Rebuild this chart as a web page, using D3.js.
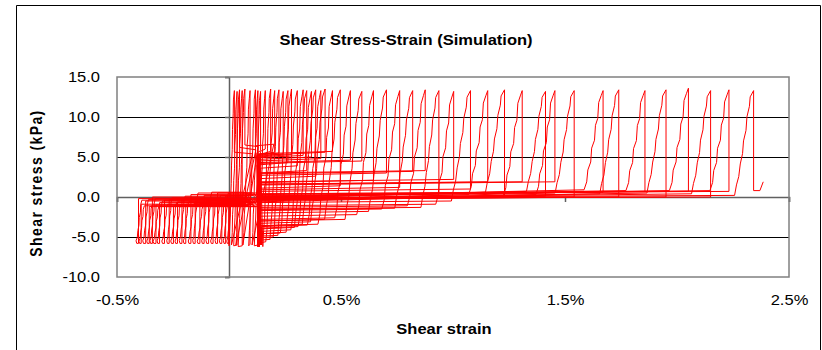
<!DOCTYPE html>
<html>
<head>
<meta charset="utf-8">
<script src="https://cdn.jsdelivr.net/npm/d3@7"></script>
<style>
  body { margin: 0; background: #fff; }
  text { font-family: "Liberation Sans", Arial, sans-serif; }
</style>
</head>
<body>
<div id="chart"></div>
<script>
// ---- data (strain in %, stress in kPa) ----
var xTicks = [-0.5, 0.5, 1.5, 2.5];
var yTicks = [-10, -5, 0, 5, 10, 15];
var gridStress = [-5, 5, 10];

// branch shapes: [fraction of height, fraction of width]
var jagA = [[0,0],[0.1,0.1],[0.18,0.22],[0.3,0.3],[0.4,0.42],[0.52,0.47],[0.62,0.6],[0.75,0.65],[0.85,0.78],[0.94,0.82],[1,1]];
var jagB = [[0,0],[0.08,0.14],[0.2,0.2],[0.28,0.35],[0.42,0.4],[0.5,0.55],[0.65,0.6],[0.72,0.72],[0.88,0.77],[0.95,0.9],[1,1]];
var jagL = [[0,0.12],[0.06,0],[0.14,0.22],[0.3,0.32],[0.42,0.5],[0.6,0.55],[0.72,0.75],[0.9,0.8],[1,1]];

var leftBottom = -5.8;
// negative strain cycles: [foot strain, width, strain in, top stress, vertical strain, return stress, strain out]
var leftCycles = [
  [-0.415, 0.026, 0.055, -0.4, -0.404, -0.2, 0.080],
  [-0.402, 0.024, 0.070, -1.1, -0.392, -0.9, 0.100],
  [-0.385, 0.026, 0.090, -0.3, -0.372, -0.5, 0.060],
  [-0.367, 0.024, 0.110, -1.0, -0.356, -1.2, 0.120],
  [-0.353, 0.024, 0.050, -0.2, -0.342,  0.0, 0.090],
  [-0.339, 0.026, 0.130, -1.2, -0.326, -1.0, 0.070],
  [-0.321, 0.024, 0.080, -0.5, -0.310, -0.7, 0.110],
  [-0.300, 0.026, 0.100, -0.9, -0.288, -0.4, 0.050],
  [-0.278, 0.024, 0.060, -0.1, -0.267, -0.3, 0.130],
  [-0.260, 0.026, 0.120, -0.7, -0.248, -1.1, 0.080],
  [-0.241, 0.024, 0.090, -1.0, -0.230, -0.6, 0.100],
  [-0.222, 0.026, 0.050,  0.1, -0.210, -0.2, 0.140],
  [-0.204, 0.024, 0.110, -0.6, -0.193, -0.9, 0.060],
  [-0.182, 0.026, 0.070, -0.8, -0.170,  0.3, 0.120],
  [-0.162, 0.024, 0.130,  0.5, -0.151, -0.5, 0.090],
  [-0.142, 0.026, 0.080, -1.1, -0.130, -0.8, 0.050],
  [-0.122, 0.024, 0.100, -0.3, -0.111,  0.2, 0.110],
  [-0.103, 0.026, 0.060,  0.6, -0.091, -0.4, 0.130],
  [-0.082, 0.024, 0.120, -0.7, -0.071, -1.0, 0.070],
  [-0.062, 0.024, 0.090,  0.2, -0.051,  0.5, 0.100],
  [-0.043, 0.024, 0.050, -0.4, -0.032, -0.6, 0.140],
  [-0.025, 0.022, 0.110,  0.5, -0.015,  0.1, 0.080],
  [-0.010, 0.020, 0.070, -0.9, -0.001, -0.3, 0.000]
];

// positive strain cycles:
// [top strain, width, strain in, stress in, foot stress, top stress, unload stress, strain out, return stress, low stress]
var rightCycles = [
  [0.024, 0.024, 0.000, -6.1, -6.1, 13.3,  5.6, 0.105,  5.4, -6.1],
  [0.036, 0.025, 0.011, -6.0, -6.0, 13.2, -6.0, 0.036, -6.0, -6.0],
  [0.047, 0.026, 0.021, -6.1, -6.1, 13.4,  6.2, 0.120,  5.9, -6.1],
  [0.059, 0.028, 0.031, -6.0, -6.0, 13.3, -6.1, 0.059, -6.1, -6.0],
  [0.071, 0.030, 0.041, -6.2, -6.2, 13.5,  6.5, 0.130,  6.3, -6.2],
  [0.094, 0.032, 0.062, -6.0, -6.0, 13.3, -5.9, 0.094, -5.9, -6.0],
  [0.118, 0.030, 0.088, -6.1, -6.1, 13.4,  6.4, 0.200,  6.6, -6.1],
  [0.129, 0.026, 0.103, -6.0, -6.0, 13.3, -6.0, 0.129, -6.0, -6.0],
  [0.141, 0.028, 0.113, -6.1, -6.1, 13.2,  5.8, 0.125,  5.5, -6.1],
  [0.162, 0.030, 0.132, -6.0, -6.0, 13.3,  6.0, 0.140,  5.7, -6.0],
  [0.186, 0.035, 0.151, -6.2, -6.2, 13.5,  5.7, 0.135,  5.3, -6.2],
  [0.204, 0.040, 0.140, -5.7, -5.6, 13.3,  5.6, 0.130,  5.3, -6.0],
  [0.223, 0.040, 0.135, -5.4, -5.3, 13.4,  5.5, 0.125,  5.2, -6.1],
  [0.242, 0.045, 0.140, -5.1, -5.0, 13.2,  5.4, 0.140,  5.1, -6.0],
  [0.263, 0.045, 0.130, -4.9, -4.8, 13.3,  4.3, 0.125,  4.0, -6.2],
  [0.279, 0.050, 0.145, -4.6, -4.5, 13.5,  5.3, 0.130,  5.0, -6.0],
  [0.305, 0.050, 0.135, -4.6, -4.4, 13.3,  3.9, 0.140,  3.6, -6.1],
  [0.331, 0.055, 0.140, -4.3, -4.1, 13.4,  5.2, 0.125,  4.9, -6.0],
  [0.347, 0.055, 0.130, -4.0, -3.8, 13.3,  3.3, 0.135,  3.0, -6.2],
  [0.368, 0.060, 0.140, -3.9, -3.7, 13.2,  5.0, 0.130,  4.7, -6.0],
  [0.387, 0.060, 0.135, -3.6, -3.4, 13.4,  2.6, 0.140,  2.3, -6.1],
  [0.410, 0.060, 0.145, -3.7, -3.5, 13.3,  4.8, 0.130,  4.5, -6.0],
  [0.429, 0.065, 0.130, -3.3, -3.1, 13.5,  5.6, 0.135,  5.2, -6.2],
  [0.462, 0.065, 0.140, -3.6, -3.4, 13.3,  5.7, 0.130,  5.4, -6.0],
  [0.497, 0.070, 0.135, -3.0, -2.8, 13.4,  1.4, 0.140,  1.1, -6.1],
  [0.542, 0.070, 0.140, -2.8, -2.6, 13.3,  4.6, 0.130,  4.3, -6.0],
  [0.593, 0.075, 0.130, -3.0, -2.8, 13.2,  4.5, 0.135,  4.2, -6.2],
  [0.645, 0.075, 0.140, -2.4, -2.2, 13.3,  2.1, 0.140,  1.8, -6.0],
  [0.703, 0.080, 0.135, -2.0, -1.8, 13.4,  3.0, 0.130,  2.7, -6.1],
  [0.762, 0.080, 0.140, -1.7, -1.5, 13.3,  1.2, 0.140,  0.9, -6.0],
  [0.820, 0.080, 0.130, -1.6, -1.4, 13.3,  3.2, 0.135,  2.9, -6.2],
  [0.876, 0.080, 0.140, -1.3, -1.1, 13.4,  3.3, 0.130,  3.0, -6.0],
  [0.937, 0.080, 0.135, -1.5, -1.3, 13.3,  0.4, 0.140,  0.1, -6.1],
  [1.003, 0.080, 0.140, -1.1, -0.9, 13.2,  2.2, 0.130,  1.9, -6.0],
  [1.078, 0.085, 0.130, -0.7, -0.5, 13.3,  1.0, 0.135,  0.7, -6.2],
  [1.155, 0.085, 0.140, -0.4,  0.3, 13.3,  1.9, 0.130,  1.6, -6.0],
  [1.230, 0.085, 0.130, -0.2,  0.6, 13.4,  0.0, 0.140, -0.4, -6.1],
  [1.309, 0.085, 0.140, -0.6,  0.1, 13.3,  1.9, 0.135,  1.6, -6.0],
  [1.413, 0.085, 0.135, -0.1,  0.7, 13.2,  0.1, 0.130, -0.3, -6.2],
  [1.455, 0.085, 0.140, -0.5,  0.3, 13.3,  1.9, 0.140,  1.5, -6.0],
  [1.541, 0.085, 0.130, -0.3,  0.5, 13.3,  0.0, 0.135, -0.3, -6.1],
  [1.670, 0.085, 0.140,  0.0,  0.9, 13.3,  0.6, 0.130,  0.2, -6.0],
  [1.740, 0.085, 0.135, -0.4,  0.4, 13.4,  0.0, 0.140, -0.3, -6.2],
  [1.857, 0.085, 0.140,  0.1,  0.8, 13.3,  0.7, 0.130,  0.3, -6.0],
  [1.951, 0.085, 0.130, -0.3,  0.5, 13.4,  0.0, 0.135, -0.2, -6.1],
  [2.051, 0.085, 0.140,  0.0,  0.8, 13.6,  0.7, 0.130,  0.4, -6.0],
  [2.150, 0.085, 0.135, -0.2,  0.4, 13.3,  0.0, 0.140, -0.2, -6.2],
  [2.232, 0.085, 0.140,  0.1,  0.8, 13.4,  0.7, 0.135,  0.4, -6.0],
  [2.342, 0.085, 0.130, -0.1,  0.2, 13.3,  0.8, 2.370,  0.8, -6.1]
];
var tail = [[2.385, 1.9]];

// ---- chart ----
var W = 822, H = 350;
var sx = 1.18; // text in the picture is stretched sideways

var svg = d3.select("#chart").append("svg")
    .attr("width", W)
    .attr("height", H);

svg.append("rect").attr("width", W).attr("height", H).attr("fill", "#fff");

// outer chart border
svg.append("path")
    .attr("d", "M16.5,350V5.5H820.5V350")
    .attr("fill", "none")
    .attr("stroke", "#000")
    .attr("stroke-width", 1);

var x = d3.scaleLinear().domain([-0.5, 2.5]).range([117, 789]);
var y = d3.scaleLinear().domain([-10, 15]).range([277, 77]);

// gridlines
svg.append("g").selectAll("line")
    .data(gridStress)
    .enter().append("line")
    .attr("x1", x(-0.5)).attr("x2", x(2.5))
    .attr("y1", d => Math.round(y(d)) + 0.5)
    .attr("y2", d => Math.round(y(d)) + 0.5)
    .attr("stroke", "#000")
    .attr("stroke-width", 1);

// y axis through zero strain
var yAxisLine = svg.append("g")
    .attr("transform", "translate(" + Math.round(x(0)) + ",0)")
    .call(d3.axisLeft(y).tickValues(yTicks).tickSize(4).tickFormat(""));
yAxisLine.selectAll("path, line").attr("stroke", "#606060").attr("stroke-width", 1.5);

// x axis through zero stress
var xAxisLine = svg.append("g")
    .attr("transform", "translate(0," + Math.round(y(0)) + ")")
    .call(d3.axisBottom(x).tickValues(xTicks).tickSize(5).tickFormat(""));
xAxisLine.selectAll("path, line").attr("stroke", "#606060").attr("stroke-width", 1.5);

// plot area border
svg.append("rect")
    .attr("x", x(-0.5)).attr("y", y(15))
    .attr("width", x(2.5) - x(-0.5)).attr("height", y(-10) - y(15))
    .attr("fill", "none")
    .attr("stroke", "#808080")
    .attr("stroke-width", 1.5);

// build the simulated path
var pts = [];
leftCycles.forEach(function(c) {
  var xl = c[0], w = c[1], cxIn = c[2], s1 = c[3], xv = c[4], s2 = c[5], cxOut = c[6];
  pts.push([cxIn, s1]);
  jagL.slice().reverse().forEach(function(p) {
    pts.push([xl + w * p[1], leftBottom + (s1 - leftBottom) * p[0]]);
  });
  pts.push([xv, leftBottom]);
  pts.push([xv, s2]);
  pts.push([cxOut, s2]);
});
rightCycles.forEach(function(c, i) {
  var xTop = c[0], w = c[1], cxIn = c[2], sA = c[3], sB = c[4], top = c[5],
      sU = c[6], cxOut = c[7], sR = c[8], low = c[9];
  pts.push([cxIn, low]);
  pts.push([cxIn, sA]);
  (i % 2 ? jagB : jagA).forEach(function(p) {
    pts.push([xTop - w + w * p[1], sB + (top - sB) * p[0]]);
  });
  pts.push([xTop, sU]);
  pts.push([cxOut, sR]);
});
tail.forEach(function(p) { pts.push(p); });

var line = d3.line().x(d => x(d[0])).y(d => y(d[1]));

svg.append("path")
    .datum(pts)
    .attr("d", line)
    .attr("fill", "none")
    .attr("stroke", "#ff0000")
    .attr("stroke-width", 1)
    .attr("stroke-linejoin", "round");

// tick labels
var yLab = svg.append("g")
    .attr("transform", "translate(" + x(-0.5) + ",0)")
    .call(d3.axisLeft(y).tickValues(yTicks).tickSize(0).tickPadding(0)
      .tickFormat(d => d.toFixed(1)));
yLab.select(".domain").remove();
yLab.selectAll("text")
    .attr("x", -17 / sx)
    .attr("transform", "scale(" + sx + ",1)")
    .style("font-size", "14px")
    .attr("fill", "#000");

var xLab = svg.append("g")
    .attr("transform", "translate(0," + y(-10) + ")")
    .call(d3.axisBottom(x).tickValues(xTicks).tickSize(0).tickPadding(18)
      .tickFormat(d => d.toFixed(1) + "%"));
xLab.select(".domain").remove();
xLab.selectAll(".tick text")
    .attr("x", 0)
    .attr("transform", "scale(" + sx + ",1)")
    .style("font-size", "14px")
    .attr("fill", "#000");

// titles
function label(px, py, txt, rot, spacing) {
  var g = svg.append("g")
      .attr("transform", "translate(" + px + "," + py + ") scale(" + sx + ",1)" + (rot ? " rotate(" + rot + ")" : ""));
  g.append("text")
      .attr("text-anchor", "middle")
      .style("font-size", "14px")
      .style("font-weight", "bold")
      .style("letter-spacing", spacing || "0px")
      .text(txt);
}
label(406, 45, "Shear Stress-Strain (Simulation)");
label(444, 334, "Shear strain");
label(42, 183, "Shear stress (kPa)", -90, "1.4px");
</script>
</body>
</html>
